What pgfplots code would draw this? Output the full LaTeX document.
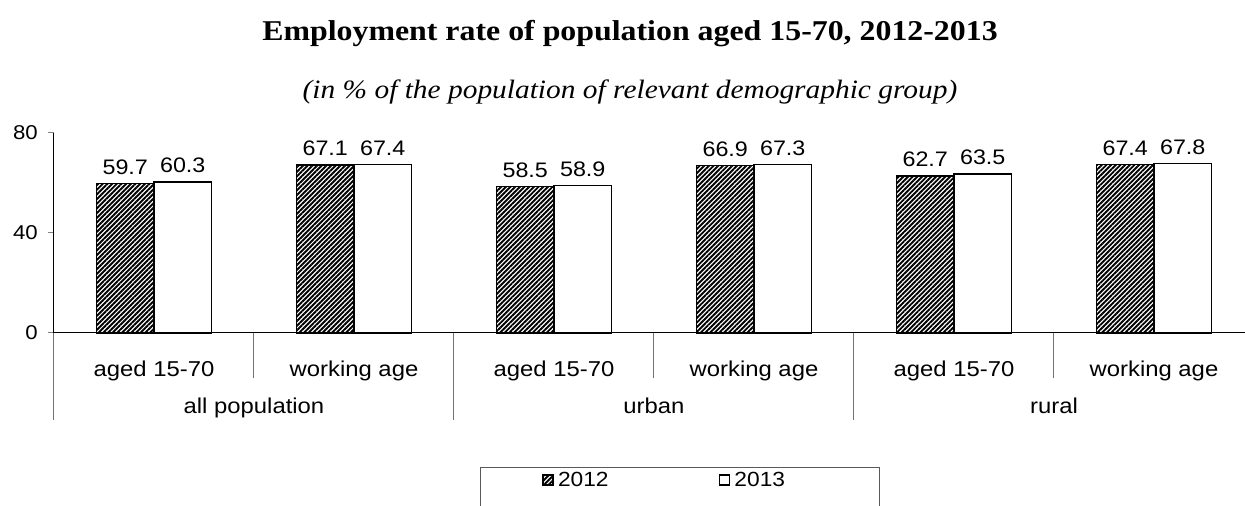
\documentclass[border=0pt]{standalone}
\usepackage{pgfplots}
\pgfplotsset{compat=1.18}
\usepackage{pgfplotstable}
\usepackage{fontspec}
\setmainfont{Liberation Sans}[FakeStretch=1.11]
\newfontfamily\seriffont{Liberation Serif}[FakeStretch=1.11]
\usetikzlibrary{patterns.meta}

\pgfplotstableread{
x a b
0 59.7 60.3
1 67.1 67.4
2 58.5 58.9
3 66.9 67.3
4 62.7 63.5
5 67.4 67.8
}\data

\begin{document}
\begin{tikzpicture}[x=1pt,y=1pt]
\path[use as bounding box] (0,0) rectangle (1245,506);
\node[anchor=base, font=\seriffont\bfseries\fontsize{28.7}{32}\selectfont] at (630,465) {Employment rate of population aged 15-70, 2012-2013};
\node[anchor=base, font=\seriffont\itshape\fontsize{26.5}{30}\selectfont] at (630,407) {(in \% of the population of relevant demographic group)};
\begin{axis}[
 at={(54pt,173pt)}, anchor=south west, scale only axis, width=1200pt, height=200pt,
 xmin=-0.5, xmax=5.5, ymin=0, ymax=80,
 axis lines=left, axis line style={-, line width=1pt},
 ytick={0,40,80}, tick align=outside, major tick length=6pt,
 y tick style={line width=1pt, black!50},
 yticklabel style={inner xsep=0pt, xshift=-10pt, font=\fontsize{20}{24}\selectfont},
 xtick={0,...,5}, xticklabels={aged 15-70, working age, aged 15-70, working age, aged 15-70, working age},
 x tick style={draw=none},
 xticklabel style={anchor=base, yshift=-37pt, font=\fontsize{21.5}{26}\selectfont},
 /pgf/number format/assume math mode=true,
 ybar=0pt, bar width=57.5pt,
 nodes near coords, point meta=explicit symbolic,
 every node near coord/.append style={font=\fontsize{21}{26}\selectfont, yshift=5pt},
 clip=false,
 legend columns=2,
 legend style={draw=none, fill=none, at={(0.4067,-0.735)}, anchor=west, inner sep=0pt,
   font=\fontsize{20.5}{24}\selectfont, nodes={inner xsep=4pt},
   /tikz/every even column/.append style={column sep=106pt}},
 legend image code/.code={\draw[#1, line width=1.8pt] (0pt,-5pt) rectangle (10pt,5pt);},
]
\addplot[draw=black, line width=1.5pt, pattern={Lines[angle=45,distance=3.3pt,line width=1.9pt]}] table[x=x,y=a,meta=a]{\data};
\addplot[draw=black, fill=white, line width=1.5pt] table[x=x,y=b,meta=b]{\data};
\legend{2012,2013}
\pgfplotsinvokeforeach{0.5,2.5,4.5}{\draw[black!55, line width=1pt] (axis cs:#1,0) -- ([yshift=-45pt]axis cs:#1,0);}
\pgfplotsinvokeforeach{-0.5,1.5,3.5,5.5}{\draw[black!55, line width=1pt] (axis cs:#1,0) -- ([yshift=-87pt]axis cs:#1,0);}
\node[anchor=base, font=\fontsize{21.5}{26}\selectfont] at ([yshift=-80pt]axis cs:0.5,0) {all population};
\node[anchor=base, font=\fontsize{21.5}{26}\selectfont] at ([yshift=-80pt]axis cs:2.5,0) {urban};
\node[anchor=base, font=\fontsize{21.5}{26}\selectfont] at ([yshift=-80pt]axis cs:4.5,0) {rural};
\end{axis}
\draw[black!65, line width=1pt] (480,38) rectangle (879,-30);
\end{tikzpicture}
\end{document}
